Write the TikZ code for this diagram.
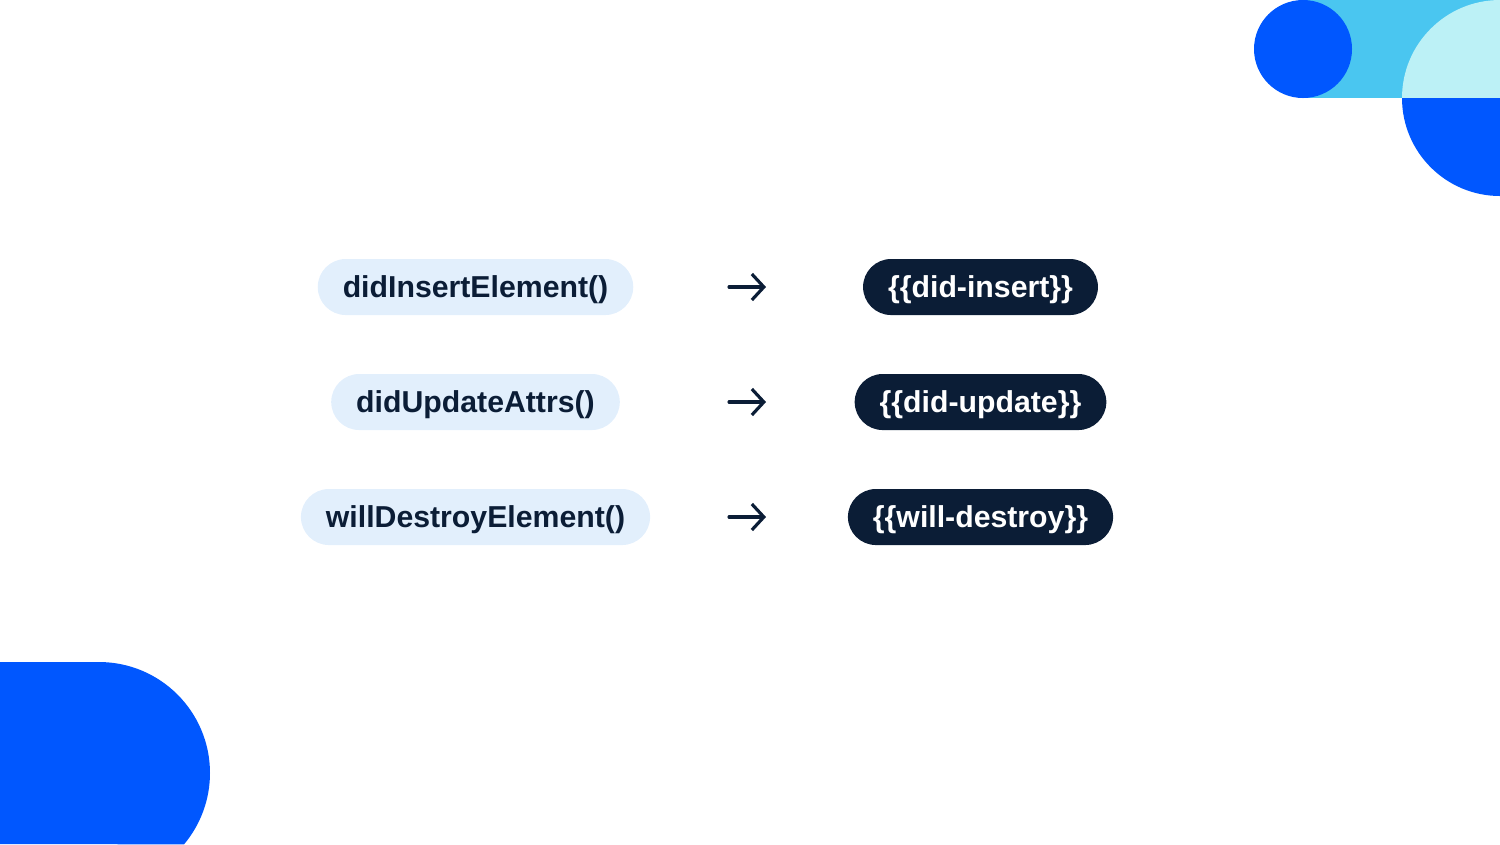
\documentclass[tikz,border=0pt]{standalone}
\usepackage{fontspec}
\setmainfont{Liberation Sans}
\usetikzlibrary{arrows.meta}
\definecolor{brandblue}{HTML}{0057FF}
\definecolor{skyblue}{HTML}{4AC6F0}
\definecolor{paleblue}{HTML}{BCF1F6}
\definecolor{pillbg}{HTML}{E2EFFC}
\definecolor{navy}{HTML}{0B1D36}
\begin{document}
\begin{tikzpicture}[x=0.01cm, y=-0.01cm, line join = round, line cap = round,
	hook/.style={fill=pillbg, text=navy, rounded corners=0.28cm, minimum height=0.56cm, inner xsep=0.25cm,
		text height=0.215cm, text depth=0pt, font=\fontsize{8.6}{10}\selectfont\bfseries},
	modifier/.style={hook, fill=navy, text=white},
	maps/.style={draw=navy, line width=0.9pt, -{Straight Barb[length=1.2mm, width=2.6mm, line width=0.9pt]}}]
	\useasboundingbox (0,0) rectangle (1500,844);
	% corner shapes
	\fill[skyblue] (1303,0) rectangle (1500,98);
	\fill[brandblue] (1303,49) circle[radius=49];
	\fill[paleblue] (1402,98) arc[start angle=180, end angle=270, radius=98] -- (1500,98) -- cycle;
	\fill[brandblue] (1402,98) arc[start angle=180, end angle=90, radius=98] -- (1500,98) -- cycle;
	\fill[brandblue] (0,662) -- (99,662) arc[start angle=-90, end angle=40, radius=111] -- (0,844) -- cycle;
	% rows
	\node[hook] (insertL) at (475.5,287) {didInsertElement()};
	\node[hook] (updateL) at (475.5,402) {didUpdateAttrs()};
	\node[hook] (destroyL) at (475.5,517) {willDestroyElement()};
	\node[modifier] (insertR) at (980.5,287) {\{\{did-insert\}\}};
	\node[modifier] (updateR) at (980.5,402) {\{\{did-update\}\}};
	\node[modifier] (destroyR) at (980.5,517) {\{\{will-destroy\}\}};
	\foreach \r in {insert,update,destroy}{
		\coordinate (\r A) at (729,0 |- \r L);
		\coordinate (\r B) at (766,0 |- \r R);
		\draw[maps] (\r A) -- (\r B);
	}
\end{tikzpicture}
\end{document}
